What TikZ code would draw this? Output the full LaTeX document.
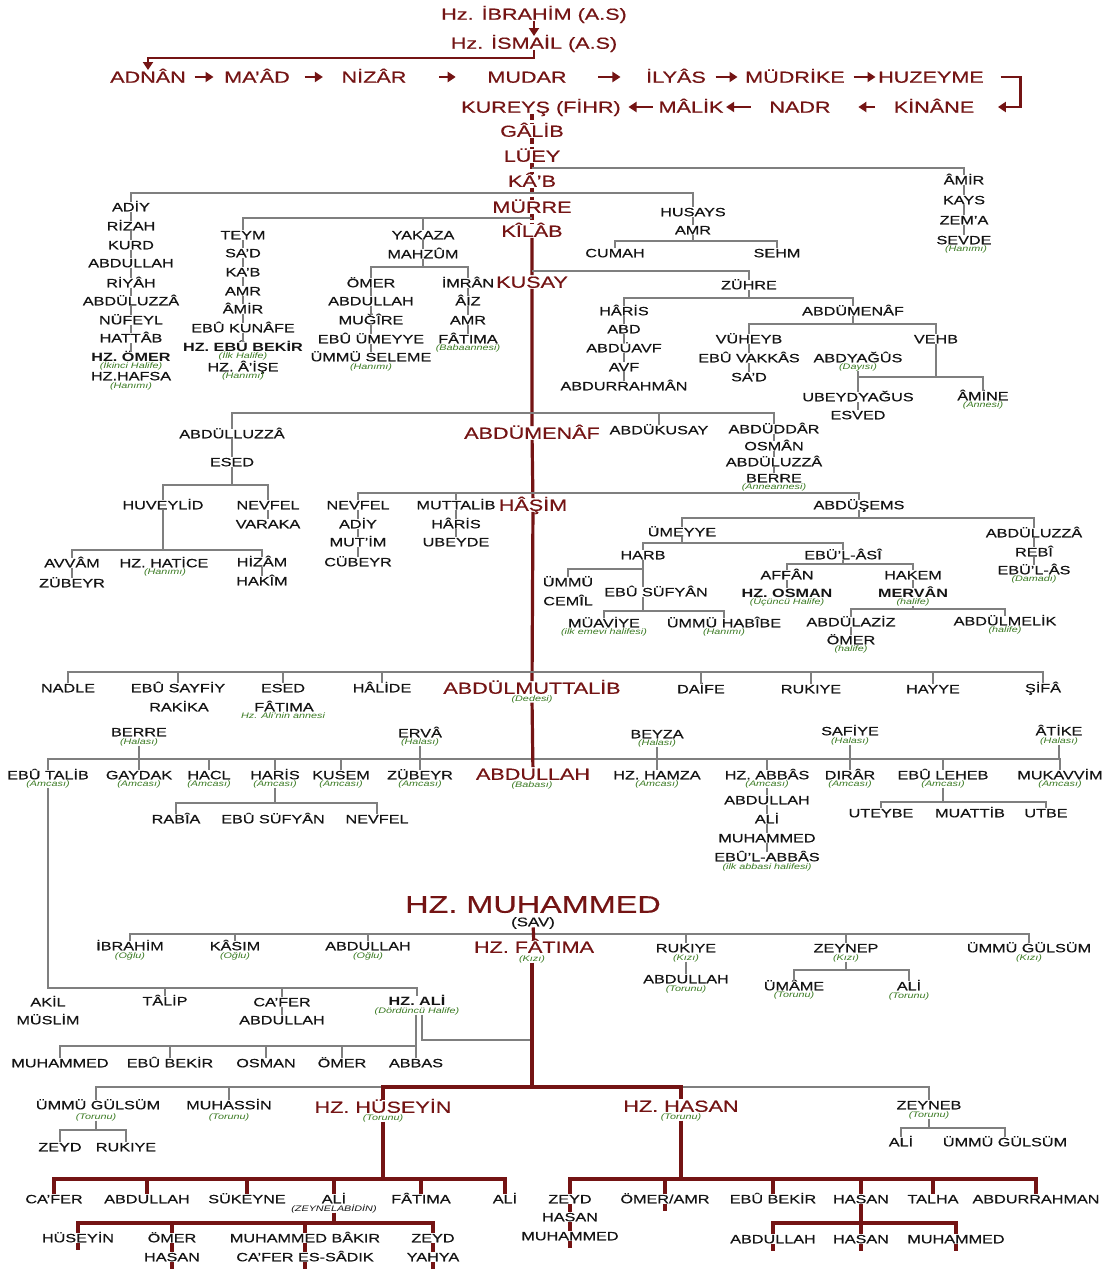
\documentclass[tikz,border=0pt]{standalone}
\usepackage{fontspec}
\setmainfont{Liberation Sans}[FakeStretch=1.35, UprightFeatures={FakeBold=0.4}]
\usetikzlibrary{arrows.meta}
\definecolor{bordo}{HTML}{741414}
\definecolor{gri}{HTML}{7F7F7F}
\definecolor{yesil}{HTML}{3A7A22}
\definecolor{siyah}{HTML}{141414}
\tikzset{
  isim/.style={font=\fontsize{12}{12}\selectfont, text=siyah, inner sep=0.5pt, text height=9pt, text depth=0.5pt},
  kalinisim/.style={isim, font=\fontsize{12}{12}\selectfont\bfseries},
  soy/.style={font=\fontsize{16}{16}\selectfont, text=bordo, inner sep=0.5pt, text height=12pt, text depth=0.5pt},
  buyuk/.style={soy, font=\fontsize{24}{24}\selectfont, text height=17.5pt, text depth=0pt},
  notu/.style={font=\fontsize{8}{8}\selectfont\itshape, text=yesil, inner sep=0pt, text height=5.5pt, text depth=1.5pt},
  notusiyah/.style={notu, text=siyah},
  ince/.style={draw=gri, line width=1.4pt},
  kalin/.style={draw=bordo, line width=3.2pt},
  kesik/.style={kalin, dash pattern=on 6pt off 3pt},
  ok/.style={draw=bordo, line width=2.4pt, -{Triangle[length=8pt, width=10pt]}},
}
\begin{document}
\begin{tikzpicture}[x=1pt, y=-1pt]
\path[use as bounding box, fill=white] (0,0) rectangle (1111,1271);

\coordinate (ismailhat) at (0,58);
\coordinate (lueyhat) at (0,168);
\coordinate (kabhat) at (0,193);
\coordinate (murrehat) at (0,218);
\coordinate (amrhat) at (0,241);
\coordinate (mahzumhat) at (0,267);
\coordinate (kilabhat) at (0,271);
\coordinate (zuhrehat) at (0,298);
\coordinate (menafBhat) at (0,324);
\coordinate (vehbhat) at (0,377);
\coordinate (kusayhat) at (0,413);
\coordinate (esedhat) at (0,485);
\coordinate (menafhat) at (0,493);
\coordinate (semshat) at (0,518);
\coordinate (umeyyehat) at (0,543);
\coordinate (huveylidhat) at (0,550);
\coordinate (asihat) at (0,564);
\coordinate (harbhat) at (0,569);
\coordinate (mervanhat) at (0,609);
\coordinate (sufyanhat) at (0,611);
\coordinate (hasimhat) at (0,672);
\coordinate (muttalibhat) at (0,759);
\coordinate (lehebhat) at (0,802);
\coordinate (harishat) at (0,803);
\coordinate (muhammedhat) at (0,934);
\coordinate (zeynephat) at (0,970);
\coordinate (talibhat) at (0,988);
\coordinate (evlilikhat) at (0,1040);
\coordinate (alihat) at (0,1046);
\coordinate (fatimahat) at (0,1087);
\coordinate (zeynebhat) at (0,1128);
\coordinate (gulsumhat) at (0,1130);
\coordinate (torunhat) at (0,1179);
\coordinate (abidinhat) at (0,1223);

\node[soy] (ibrahim) at (534,14) {Hz. İBRAHİM (A.S)};
\node[soy] (ismail) at (534,43) {Hz. İSMAİL (A.S)};
\node[soy] (adnan) at (148,77) {ADNÂN};
\node[soy] (maad) at (257,77) {MA'ÂD};
\node[soy] (nizar) at (374,77) {NİZÂR};
\node[soy] (mudar) at (527,77) {MUDAR};
\node[soy] (ilyas) at (676,77) {İLYÂS};
\node[soy] (mudrike) at (795,77) {MÜDRİKE};
\node[soy] (huzeyme) at (931,77) {HUZEYME};
\node[soy] (kinane) at (934,107) {KİNÂNE};
\node[soy] (nadr) at (800,107) {NADR};
\node[soy] (malik) at (691,107) {MÂLİK};
\node[soy] (kureys) at (541,107) {KUREYŞ (FİHR)};
\node[soy] (galib) at (532,131) {GÂLİB};
\node[soy] (luey) at (532,156) {LÜEY};
\node[soy] (kab) at (532,181) {KÂ'B};
\node[soy] (murre) at (532,207) {MÜRRE};
\node[soy] (kilab) at (532,231) {KÎLÂB};
\node[soy] (kusay) at (532,282) {KUSAY};
\node[soy] (abdumenaf) at (532,433) {ABDÜMENÂF};
\node[soy] (hasim) at (533,505) {HÂŞİM};
\node[soy] (abdulmuttalib) at (532,688) {ABDÜLMUTTALİB};
\node[notu] (abdulmuttalibN) at (532,699) {(Dedesi)};
\node[soy] (abdullah) at (533,774) {ABDULLAH};
\node[notu] (abdullahN) at (532,785) {(Babası)};
\node[buyuk] (muhammed) at (533,904) {HZ. MUHAMMED};
\node[isim, font=\fontsize{12.5}{12.5}\selectfont] (sav) at (533,922) {(SAV)};
\node[soy] (fatima) at (534,947) {HZ. FÂTIMA};
\node[notu] (fatimaN) at (532,959) {(Kızı)};
\node[soy] (huseyin) at (383,1107) {HZ. HÜSEYİN};
\node[notu] (huseyinN) at (383,1118) {(Torunu)};
\node[soy] (hasan) at (681,1106) {HZ. HASAN};
\node[notu] (hasanN) at (681,1117) {(Torunu)};

\draw[ok] (ibrahim) -- (ismail);
\draw[ok] (ismail.south) -- (ismail.south |- ismailhat) -| (adnan.north);
\draw[ok, shorten <=8pt, shorten >=10pt] (adnan) -- (maad);
\draw[ok, shorten <=14pt, shorten >=18pt] (maad) -- (nizar);
\draw[ok, shorten <=32pt, shorten >=31pt] (nizar) -- (mudar);
\draw[ok, shorten <=31pt, shorten >=25pt] (mudar) -- (ilyas);
\draw[ok, shorten <=9pt, shorten >=7pt] (ilyas) -- (mudrike);
\draw[ok, shorten <=8pt, shorten >=2pt] (mudrike) -- (huzeyme);
\draw[ok] ([xshift=16pt]huzeyme.east) -- ++(20,0) |- ([xshift=23pt]kinane.east);
\draw[ok, shorten <=18pt, shorten >=27pt] (kinane) -- (nadr);
\draw[ok, shorten <=18pt, shorten >=2pt] (nadr) -- (malik);
\draw[ok, shorten <=5pt, shorten >=7pt] (malik) -- (kureys);
\draw[kesik] (kureys.south -| galib) -- (galib);
\draw[kesik] (galib) -- (luey) -- (kab) -- (murre) -- (kilab);
\draw[kalin] (kilab) -- (kusay) -- (abdumenaf) -- (hasim) -- (abdulmuttalib);

\node[isim] (amir) at (964,180) {ÂMİR};
\node[isim] (kays) at (964,200) {KAYS};
\node[isim] (zema) at (964,220) {ZEM'A};
\node[isim] (sevde) at (964,240) {SEVDE};
\node[notu] (sevdeN) at (966,249) {(Hanımı)};
\draw[ince] (luey.south |- lueyhat) -| (amir.north);
\draw[ince] (amir) -- (kays) -- (zema) -- (sevde);

\node[isim] (adiy) at (131,207) {ADİY};
\node[isim] (rizah) at (131,226) {RİZAH};
\node[isim] (kurd) at (131,245) {KURD};
\node[isim] (abdullahA) at (131,263) {ABDULLAH};
\node[isim] (riyah) at (131,283) {RİYÂH};
\node[isim] (abduluzzaA) at (131,301) {ABDÜLUZZÂ};
\node[isim] (nufeyl) at (131,320) {NÜFEYL};
\node[isim] (hattab) at (131,338) {HATTÂB};
\node[kalinisim] (omerA) at (131,357) {HZ. ÖMER};
\node[notu] (omerAN) at (131,366) {(İkinci Halife)};
\node[isim] (hafsa) at (131,376) {HZ.HAFSA};
\node[notu] (hafsaN) at (131,386) {(Hanımı)};
\draw[ince] (adiy.north) |- (kab.south |- kabhat);
\draw[ince] (adiy) -- (rizah) -- (kurd) -- (abdullahA) -- (riyah) -- (abduluzzaA) -- (nufeyl) -- (hattab) -- (omerA);

\node[isim] (husays) at (693,212) {HUSAYS};
\node[isim] (amrC) at (693,230) {AMR};
\node[isim] (cumah) at (615,253) {CUMAH};
\node[isim] (sehm) at (777,253) {SEHM};
\draw[ince] (kab.south |- kabhat) -| (husays.north);
\draw[ince] (husays) -- (amrC);
\draw[ince] (amrC.south) -- (amrC.south |- amrhat);
\draw[ince] (cumah.north) |- (sehm.north |- amrhat) -- (sehm.north);

\node[isim] (teym) at (243,235) {TEYM};
\node[isim] (sad) at (243,253) {SA'D};
\node[isim] (kabB) at (243,272) {KA'B};
\node[isim] (amrA) at (243,291) {AMR};
\node[isim] (amirB) at (243,309) {ÂMİR};
\node[isim] (kunafe) at (243,328) {EBÛ KUNÂFE};
\node[kalinisim] (ebubekir) at (243,347) {HZ. EBÛ BEKİR};
\node[notu] (ebubekirN) at (243,356) {(İlk Halife)};
\node[isim] (aise) at (243,367) {HZ. Â'İŞE};
\node[notu] (aiseN) at (243,376) {(Hanımı)};
\draw[ince] (teym.north) |- (murre.south |- murrehat);
\draw[ince] (teym) -- (sad) -- (kabB) -- (amrA) -- (amirB) -- (kunafe) -- (ebubekir);

\node[isim] (yakaza) at (423,235) {YAKAZA};
\node[isim] (mahzum) at (423,254) {MAHZÛM};
\node[isim] (omerB) at (371,283) {ÖMER};
\node[isim] (abdullahB) at (371,301) {ABDULLAH};
\node[isim] (mugire) at (371,320) {MUĞÎRE};
\node[isim] (ebuumeyye) at (371,339) {EBÛ ÜMEYYE};
\node[isim] (seleme) at (371,357) {ÜMMÜ SELEME};
\node[notu] (selemeN) at (371,367) {(Hanımı)};
\node[isim] (imran) at (468,283) {İMRÂN};
\node[isim] (aiz) at (468,301) {ÂİZ};
\node[isim] (amrB) at (468,320) {AMR};
\node[isim] (fatimaA) at (468,339) {FÂTIMA};
\node[notu] (fatimaAN) at (468,348) {(Babaannesi)};
\draw[ince] (yakaza.north |- murrehat) -- (yakaza.north);
\draw[ince] (yakaza) -- (mahzum);
\draw[ince] (mahzum.south) -- (mahzum.south |- mahzumhat);
\draw[ince] (omerB.north) |- (imran.north |- mahzumhat) -- (imran.north);
\draw[ince] (omerB) -- (abdullahB) -- (mugire) -- (ebuumeyye) -- (seleme);
\draw[ince] (imran) -- (aiz) -- (amrB) -- (fatimaA);

\node[isim] (zuhre) at (749,285) {ZÜHRE};
\node[isim] (harisA) at (624,311) {HÂRİS};
\node[isim] (abd) at (624,329) {ABD};
\node[isim] (abduavf) at (624,348) {ABDÜAVF};
\node[isim] (avf) at (624,367) {AVF};
\node[isim] (abdurrahman) at (624,386) {ABDURRAHMÂN};
\node[isim] (abdumenafB) at (853,311) {ABDÜMENÂF};
\node[isim] (vuheyb) at (749,339) {VÜHEYB};
\node[isim] (ebuvakkas) at (749,358) {EBÛ VAKKÂS};
\node[isim] (sadB) at (749,377) {SA'D};
\node[isim] (vehb) at (936,339) {VEHB};
\node[isim] (abdyagus) at (858,358) {ABDYAĞÛS};
\node[notu] (abdyagusN) at (858,367) {(Dayısı)};
\node[isim] (ubeydyagus) at (858,397) {UBEYDYAĞUS};
\node[isim] (esved) at (858,415) {ESVED};
\node[isim] (amine) at (983,396) {ÂMİNE};
\node[notu] (amineN) at (983,405) {(Annesi)};
\draw[ince] (kilab.south |- kilabhat) -| (zuhre.north);
\draw[ince] (zuhre.south) -- (zuhre.south |- zuhrehat);
\draw[ince] (harisA.north) |- (abdumenafB.north |- zuhrehat) -- (abdumenafB.north);
\draw[ince] (harisA) -- (abd) -- (abduavf) -- (avf) -- (abdurrahman);
\draw[ince] (abdumenafB.south) -- (abdumenafB.south |- menafBhat);
\draw[ince] (vuheyb.north) |- (vehb.north |- menafBhat) -- (vehb.north);
\draw[ince] (vuheyb) -- (ebuvakkas) -- (sadB);
\draw[ince] (vehb.south) -- (vehb.south |- vehbhat);
\draw[ince] (abdyagusN.south) -- (ubeydyagus.north);
\draw[ince] (abdyagusN.south |- vehbhat) -| (amine.north);
\draw[ince] (ubeydyagus) -- (esved);

\node[isim] (abdulluzza) at (232,434) {ABDÜLLUZZÂ};
\node[isim] (esed) at (232,462) {ESED};
\node[isim] (huveylid) at (163,505) {HUVEYLİD};
\node[isim] (nevfel) at (268,505) {NEVFEL};
\node[isim] (varaka) at (268,524) {VARAKA};
\node[isim] (avvam) at (72,563) {AVVÂM};
\node[isim] (zubeyr) at (72,583) {ZÜBEYR};
\node[isim] (hatice) at (164,563) {HZ. HATİCE};
\node[notu] (haticeN) at (165,572) {(Hanımı)};
\node[isim] (hizam) at (262,562) {HİZÂM};
\node[isim] (hakim) at (262,581) {HAKÎM};
\node[isim] (abdukusay) at (659,430) {ABDÜKUSAY};
\node[isim] (abduddar) at (774,429) {ABDÜDDÂR};
\node[isim] (osman) at (774,446) {OSMÂN};
\node[isim] (abduluzzaB) at (774,462) {ABDÜLUZZÂ};
\node[isim] (berre) at (774,478) {BERRE};
\node[notu] (berreN) at (774,487) {(Anneannesi)};
\draw[ince] (abdulluzza.north) |- (abduddar.north |- kusayhat) -- (abduddar.north);
\draw[ince] (abdukusay.north |- kusayhat) -- (abdukusay.north);
\draw[ince] (abduddar) -- (osman) -- (abduluzzaB) -- (berre);
\draw[ince] (abdulluzza) -- (esed);
\draw[ince] (esed.south) -- (esed.south |- esedhat);
\draw[ince] (huveylid.north) |- (nevfel.north |- esedhat) -- (nevfel.north);
\draw[ince] (nevfel) -- (varaka);
\draw[ince] (huveylid.south) -- (huveylid.south |- huveylidhat);
\draw[ince] (avvam.north) |- (hizam.north |- huveylidhat) -- (hizam.north);
\draw[ince] (avvam) -- (zubeyr);
\draw[ince] (hizam) -- (hakim);

\node[isim] (nevfelB) at (358,505) {NEVFEL};
\node[isim] (adiyB) at (358,524) {ADİY};
\node[isim] (mutim) at (358,542) {MUT'İM};
\node[isim] (cubeyr) at (358,562) {CÜBEYR};
\node[isim] (muttalib) at (456,505) {MUTTALİB};
\node[isim] (harisB) at (456,524) {HÂRİS};
\node[isim] (ubeyde) at (456,542) {UBEYDE};
\node[isim] (abdusems) at (859,505) {ABDÜŞEMS};
\draw[ince] (nevfelB.north) |- (abdusems.north |- menafhat) -- (abdusems.north);
\draw[ince] (muttalib.north |- menafhat) -- (muttalib.north);
\draw[ince] (nevfelB) -- (adiyB) -- (mutim) -- (cubeyr);
\draw[ince] (muttalib) -- (harisB) -- (ubeyde);

\node[isim] (umeyye) at (682,532) {ÜMEYYE};
\node[isim] (abduluzzaC) at (1034,533) {ABDÜLUZZÂ};
\node[isim] (rebi) at (1034,552) {REBÎ};
\node[isim] (ebulas) at (1034,570) {EBÜ'L-ÂS};
\node[notu] (ebulasN) at (1034,579) {(Damadı)};
\node[isim] (harb) at (643,555) {HARB};
\node[isim] (ummu) at (568,582) {ÜMMÜ};
\node[isim] (cemil) at (568,601) {CEMÎL};
\node[isim] (ebusufyan) at (656,592) {EBÛ SÜFYÂN};
\node[isim] (muaviye) at (604,623) {MÜAVİYE};
\node[notu] (muaviyeN) at (604,632) {(ilk emevi halifesi)};
\node[isim] (habibe) at (724,623) {ÜMMÜ HABÎBE};
\node[notu] (habibeN) at (724,632) {(Hanımı)};
\node[isim] (ebulasi) at (843,555) {EBÜ'L-ÂSÎ};
\node[isim] (affan) at (787,575) {AFFÂN};
\node[kalinisim] (osmanB) at (787,593) {HZ. OSMAN};
\node[notu] (osmanBN) at (787,602) {(Üçüncü Halife)};
\node[isim] (hakem) at (913,575) {HAKEM};
\node[kalinisim] (mervan) at (913,593) {MERVÂN};
\node[notu] (mervanN) at (913,602) {(halife)};
\node[isim] (abdulaziz) at (851,622) {ABDÜLAZİZ};
\node[isim] (omerC) at (851,640) {ÖMER};
\node[notu] (omerCN) at (851,649) {(halife)};
\node[isim] (abdulmelik) at (1005,621) {ABDÜLMELİK};
\node[notu] (abdulmelikN) at (1005,630) {(halife)};
\draw[ince] (abdusems.south) -- (abdusems.south |- semshat);
\draw[ince] (umeyye.north) |- (abduluzzaC.north |- semshat) -- (abduluzzaC.north);
\draw[ince] (abduluzzaC) -- (rebi) -- (ebulas);
\draw[ince] (umeyye.south) -- (umeyye.south |- umeyyehat);
\draw[ince] (harb.north) |- (ebulasi.north |- umeyyehat) -- (ebulasi.north);
\draw[ince] (harb.south) -- (harb.south |- ebusufyan.north);
\draw[ince] (harb.south |- harbhat) -| (ummu.north);
\draw[ince] (ebusufyan.south -| harb) -- (harb |- sufyanhat);
\draw[ince] (muaviye.north) |- (habibe.north |- sufyanhat) -- (habibe.north);
\draw[ince] (ebulasi.south) -- (ebulasi.south |- asihat);
\draw[ince] (affan.north) |- (hakem.north |- asihat) -- (hakem.north);
\draw[ince] (affan) -- (osmanB);
\draw[ince] (hakem) -- (mervan);
\draw[ince] (mervanN.south) -- (mervanN.south |- mervanhat);
\draw[ince] (abdulaziz.north) |- (abdulmelik.north |- mervanhat) -- (abdulmelik.north);
\draw[ince] (abdulaziz) -- (omerC);

\node[isim] (nadle) at (68,688) {NADLE};
\node[isim] (sayfiy) at (178,688) {EBÛ SAYFİY};
\node[isim] (rakika) at (179,707) {RAKİKA};
\node[isim] (esedB) at (283,688) {ESED};
\node[isim] (fatimaB) at (284,707) {FÂTIMA};
\node[notu] (fatimaBN) at (283,716) {Hz. Ali'nin annesi};
\node[isim] (halide) at (382,688) {HÂLİDE};
\node[isim] (daife) at (701,689) {DAİFE};
\node[isim] (rukiye) at (811,689) {RUKIYE};
\node[isim] (hayye) at (933,689) {HAYYE};
\node[isim] (sifa) at (1043,688) {ŞİFÂ};
\draw[ince] (nadle.north) |- (sifa.north |- hasimhat) -- (sifa.north);
\draw[ince] (sayfiy.north |- hasimhat) -- (sayfiy.north) (esedB.north |- hasimhat) -- (esedB.north)
  (halide.north |- hasimhat) -- (halide.north) (daife.north |- hasimhat) -- (daife.north)
  (rukiye.north |- hasimhat) -- (rukiye.north) (hayye.north |- hasimhat) -- (hayye.north);

\node[isim] (berreB) at (139,732) {BERRE};
\node[notu] (berreBN) at (139,742) {(Halası)};
\node[isim] (erva) at (420,733) {ERVÂ};
\node[notu] (ervaN) at (420,742) {(Halası)};
\node[isim] (beyza) at (657,734) {BEYZA};
\node[notu] (beyzaN) at (657,743) {(Halası)};
\node[isim] (safiye) at (850,731) {SAFİYE};
\node[notu] (safiyeN) at (850,741) {(Halası)};
\node[isim] (atike) at (1059,731) {ÂTİKE};
\node[notu] (atikeN) at (1059,741) {(Halası)};
\node[isim] (ebutalib) at (48,775) {EBÛ TALİB};
\node[notu] (ebutalibN) at (48,784) {(Amcası)};
\node[isim] (gaydak) at (139,775) {GAYDAK};
\node[notu] (gaydakN) at (139,784) {(Amcası)};
\node[isim] (hacl) at (209,775) {HACL};
\node[notu] (haclN) at (209,784) {(Amcası)};
\node[isim] (harisC) at (275,775) {HARİS};
\node[notu] (harisCN) at (275,784) {(Amcası)};
\node[isim] (kusem) at (341,775) {KUSEM};
\node[notu] (kusemN) at (341,784) {(Amcası)};
\node[isim] (zubeyrB) at (420,775) {ZÜBEYR};
\node[notu] (zubeyrBN) at (420,784) {(Amcası)};
\node[isim] (hamza) at (657,775) {HZ. HAMZA};
\node[notu] (hamzaN) at (657,784) {(Amcası)};
\node[isim] (abbas) at (767,775) {HZ. ABBÂS};
\node[notu] (abbasN) at (767,784) {(Amcası)};
\node[isim] (dirar) at (850,775) {DIRÂR};
\node[notu] (dirarN) at (850,784) {(Amcası)};
\node[isim] (ebuleheb) at (943,775) {EBÛ LEHEB};
\node[notu] (ebulehebN) at (943,784) {(Amcası)};
\node[isim] (mukavvim) at (1060,775) {MUKAVVİM};
\node[notu] (mukavvimN) at (1060,784) {(Amcası)};
\draw[ince] (ebutalib.north) |- (mukavvim.north |- muttalibhat) -- (mukavvim.north);
\draw[ince] (gaydak.north |- muttalibhat) -- (gaydak.north) (hacl.north |- muttalibhat) -- (hacl.north)
  (harisC.north |- muttalibhat) -- (harisC.north) (kusem.north |- muttalibhat) -- (kusem.north)
  (zubeyrB.north |- muttalibhat) -- (zubeyrB.north) (hamza.north |- muttalibhat) -- (hamza.north)
  (abbas.north |- muttalibhat) -- (abbas.north) (dirar.north |- muttalibhat) -- (dirar.north)
  (ebuleheb.north |- muttalibhat) -- (ebuleheb.north);
\draw[ince] (berreBN.south) -- (berreBN.south |- muttalibhat) (ervaN.south) -- (ervaN.south |- muttalibhat)
  (beyzaN.south) -- (beyzaN.south |- muttalibhat) (safiyeN.south) -- (safiyeN.south |- muttalibhat)
  (atikeN.south) -- (atikeN.south |- muttalibhat);
\draw[kalin] (abdulmuttalibN) -- (abdullah);

\node[isim] (rabia) at (176,819) {RABÎA};
\node[isim] (ebusufyanB) at (273,819) {EBÛ SÜFYÂN};
\node[isim] (nevfelC) at (377,819) {NEVFEL};
\node[isim] (abdullahC) at (767,800) {ABDULLAH};
\node[isim] (aliA) at (767,819) {ALİ};
\node[isim] (muhammedA) at (767,838) {MUHAMMED};
\node[isim] (ebulabbas) at (767,857) {EBÛ'L-ABBÂS};
\node[notu] (ebulabbasN) at (767,867) {(ilk abbasi halifesi)};
\node[isim] (uteybe) at (881,813) {UTEYBE};
\node[isim] (muattib) at (970,813) {MUATTİB};
\node[isim] (utbe) at (1046,813) {UTBE};
\draw[ince] (harisCN.south) -- (harisCN.south |- harishat);
\draw[ince] (rabia.north) |- (nevfelC.north |- harishat) -- (nevfelC.north);
\draw[ince] (abbasN) -- (abdullahC) -- (aliA) -- (muhammedA) -- (ebulabbas);
\draw[ince] (ebulehebN.south) -- (ebulehebN.south |- lehebhat);
\draw[ince] (uteybe.north) |- (utbe.north |- lehebhat) -- (utbe.north);

\node[isim] (ibrahimB) at (130,946) {İBRAHİM};
\node[notu] (ibrahimBN) at (130,956) {(Oğlu)};
\node[isim] (kasim) at (235,946) {KÂSIM};
\node[notu] (kasimN) at (235,956) {(Oğlu)};
\node[isim] (abdullahE) at (368,946) {ABDULLAH};
\node[notu] (abdullahEN) at (368,956) {(Oğlu)};
\node[isim] (rukiyeB) at (686,948) {RUKIYE};
\node[notu] (rukiyeBN) at (686,958) {(Kızı)};
\node[isim] (abdullahF) at (686,979) {ABDULLAH};
\node[notu] (abdullahFN) at (686,989) {(Torunu)};
\node[isim] (zeynep) at (846,948) {ZEYNEP};
\node[notu] (zeynepN) at (846,958) {(Kızı)};
\node[isim] (umame) at (794,986) {ÜMÂME};
\node[notu] (umameN) at (794,995) {(Torunu)};
\node[isim] (aliB) at (909,986) {ALİ};
\node[notu] (aliBN) at (909,996) {(Torunu)};
\node[isim] (ummugulsum) at (1029,948) {ÜMMÜ GÜLSÜM};
\node[notu] (ummugulsumN) at (1029,958) {(Kızı)};
\draw[ince] (ibrahimB.north) |- (ummugulsum.north |- muhammedhat) -- (ummugulsum.north);
\draw[ince] (kasim.north |- muhammedhat) -- (kasim.north) (abdullahE.north |- muhammedhat) -- (abdullahE.north)
  (rukiyeB.north |- muhammedhat) -- (rukiyeB.north) (zeynep.north |- muhammedhat) -- (zeynep.north);
\draw[ince] (rukiyeBN) -- (abdullahF);
\draw[ince] (zeynepN.south) -- (zeynepN.south |- zeynephat);
\draw[ince] (umame.north) |- (aliB.north |- zeynephat) -- (aliB.north);
\draw[kalin] (sav) -- (fatima);

\node[isim] (akil) at (48,1002) {AKİL};
\node[isim] (muslim) at (48,1020) {MÜSLİM};
\node[isim] (talip) at (165,1001) {TÂLİP};
\node[isim] (cafer) at (282,1002) {CA'FER};
\node[isim] (abdullahD) at (282,1020) {ABDULLAH};
\node[kalinisim] (hzali) at (417,1001) {HZ. ALİ};
\node[notu] (hzaliN) at (417,1011) {(Dördüncü Halife)};
\node[isim] (muhammedB) at (60,1063) {MUHAMMED};
\node[isim] (ebubekirB) at (170,1063) {EBÛ BEKİR};
\node[isim] (osmanC) at (266,1063) {OSMAN};
\node[isim] (omerD) at (342,1063) {ÖMER};
\node[isim] (abbasB) at (416,1063) {ABBAS};
\draw[ince] (ebutalibN.south) |- (hzali.north |- talibhat) -- (hzali.north);
\draw[ince] (talip.north |- talibhat) -- (talip.north) (cafer.north |- talibhat) -- (cafer.north);
\draw[ince] (cafer) -- (abdullahD);
\draw[ince] (hzaliN.south -| abbasB) -- (abbasB.north);
\draw[ince] (muhammedB.north) |- (abbasB.north |- alihat);
\draw[ince] (ebubekirB.north |- alihat) -- (ebubekirB.north) (osmanC.north |- alihat) -- (osmanC.north)
  (omerD.north |- alihat) -- (omerD.north);
\draw[ince] ([xshift=5pt]hzaliN.south) |- (fatimaN.south |- evlilikhat);

\node[isim] (ummugulsumB) at (98,1105) {ÜMMÜ GÜLSÜM};
\node[notu] (ummugulsumBN) at (96,1117) {(Torunu)};
\node[isim] (muhassin) at (229,1105) {MUHASSİN};
\node[notu] (muhassinN) at (229,1117) {(Torunu)};
\node[isim] (zeyneb) at (929,1105) {ZEYNEB};
\node[notu] (zeynebN) at (929,1115) {(Torunu)};
\node[isim] (zeyd) at (60,1147) {ZEYD};
\node[isim] (rukiyeC) at (126,1147) {RUKIYE};
\node[isim] (aliC) at (901,1142) {ALİ};
\node[isim] (ummugulsumC) at (1005,1142) {ÜMMÜ GÜLSÜM};
\draw[ince] (ummugulsumB.north -| ummugulsumBN) |- (huseyin.north |- fatimahat);
\draw[ince] (muhassin.north |- fatimahat) -- (muhassin.north);
\draw[ince] (hasan.north |- fatimahat) -| (zeyneb.north);
\draw[ince] (ummugulsumBN.south) -- (ummugulsumBN.south |- gulsumhat);
\draw[ince] (zeyd.north) |- (rukiyeC.north |- gulsumhat) -- (rukiyeC.north);
\draw[ince] (zeynebN.south) -- (zeynebN.south |- zeynebhat);
\draw[ince] (aliC.north) |- (ummugulsumC.north |- zeynebhat) -- (ummugulsumC.north);
\draw[kalin] (fatimaN.south) -- (fatimaN.south |- fatimahat);
\draw[kalin] (huseyin.north) |- (hasan.north |- fatimahat) -- (hasan.north);

\node[isim] (caferB) at (54,1199) {CA'FER};
\node[isim] (abdullahG) at (147,1199) {ABDULLAH};
\node[isim] (sukeyne) at (247,1199) {SÜKEYNE};
\node[isim] (zeynelabidin) at (334,1199) {ALİ};
\node[notusiyah] (zeynelabidinN) at (334,1209) {(ZEYNELABİDİN)};
\node[isim] (fatimaC) at (421,1199) {FÂTIMA};
\node[isim] (aliF) at (505,1199) {ALİ};
\node[isim] (huseyinB) at (78,1238) {HÜSEYİN};
\node[isim] (omerE) at (172,1238) {ÖMER};
\node[isim] (hasanB) at (172,1257) {HASAN};
\node[isim] (bakir) at (305,1238) {MUHAMMED BÂKIR};
\node[isim] (sadik) at (305,1257) {CA'FER ES-SÂDIK};
\node[isim] (zeydB) at (433,1238) {ZEYD};
\node[isim] (yahya) at (433,1257) {YAHYA};
\draw[kalin] (huseyinN.south) -- (huseyinN.south |- torunhat);
\draw[kalin] (caferB.north) |- (aliF.north |- torunhat) -- (aliF.north);
\draw[kalin] (abdullahG.north |- torunhat) -- (abdullahG.north) (sukeyne.north |- torunhat) -- (sukeyne.north)
  (zeynelabidin.north |- torunhat) -- (zeynelabidin.north) (fatimaC.north |- torunhat) -- (fatimaC.north);
\draw[kalin] (zeynelabidinN.south) -- (zeynelabidinN.south |- abidinhat);
\draw[kalin] (huseyinB.north) |- (zeydB.north |- abidinhat) -- (zeydB.north);
\draw[kalin] (omerE.north |- abidinhat) -- (omerE.north) (bakir.north |- abidinhat) -- (bakir.north);
\draw[kalin] (omerE) -- (hasanB) (bakir) -- (sadik) (zeydB) -- (yahya);
\draw[kalin] (huseyinB.south) -- ++(0,7) (hasanB.south) -- ++(0,7) (sadik.south) -- ++(0,7) (yahya.south) -- ++(0,7);

\node[isim] (zeydC) at (570,1199) {ZEYD};
\node[isim] (hasanC) at (570,1217) {HASAN};
\node[isim] (muhammedC) at (570,1236) {MUHAMMED};
\node[isim] (omeramr) at (665,1199) {ÖMER/AMR};
\node[isim] (ebubekirC) at (773,1199) {EBÛ BEKİR};
\node[isim] (hasanD) at (861,1199) {HASAN};
\node[isim] (talha) at (933,1199) {TALHA};
\node[isim] (abdurrahmanB) at (1036,1199) {ABDURRAHMAN};
\node[isim] (abdullahH) at (773,1239) {ABDULLAH};
\node[isim] (hasanE) at (861,1239) {HASAN};
\node[isim] (muhammedD) at (956,1239) {MUHAMMED};
\draw[kalin] (hasanN.south) -- (hasanN.south |- torunhat);
\draw[kalin] (zeydC.north) |- (abdurrahmanB.north |- torunhat) -- (abdurrahmanB.north);
\draw[kalin] (omeramr.north |- torunhat) -- (omeramr.north) (ebubekirC.north |- torunhat) -- (ebubekirC.north)
  (hasanD.north |- torunhat) -- (hasanD.north) (talha.north |- torunhat) -- (talha.north);
\draw[kalin] (zeydC) -- (hasanC) -- (muhammedC);
\draw[kalin] (muhammedC.south) -- ++(0,7) (omeramr.south) -- ++(0,7);
\draw[kalin] (hasanD.south) -- (hasanD.south |- abidinhat);
\draw[kalin] (abdullahH.north) |- (muhammedD.north |- abidinhat) -- (muhammedD.north);
\draw[kalin] (hasanE.north |- abidinhat) -- (hasanE.north);
\draw[kalin] (abdullahH.south) -- ++(0,7) (hasanE.south) -- ++(0,7) (muhammedD.south) -- ++(0,7);
\end{tikzpicture}
\end{document}
